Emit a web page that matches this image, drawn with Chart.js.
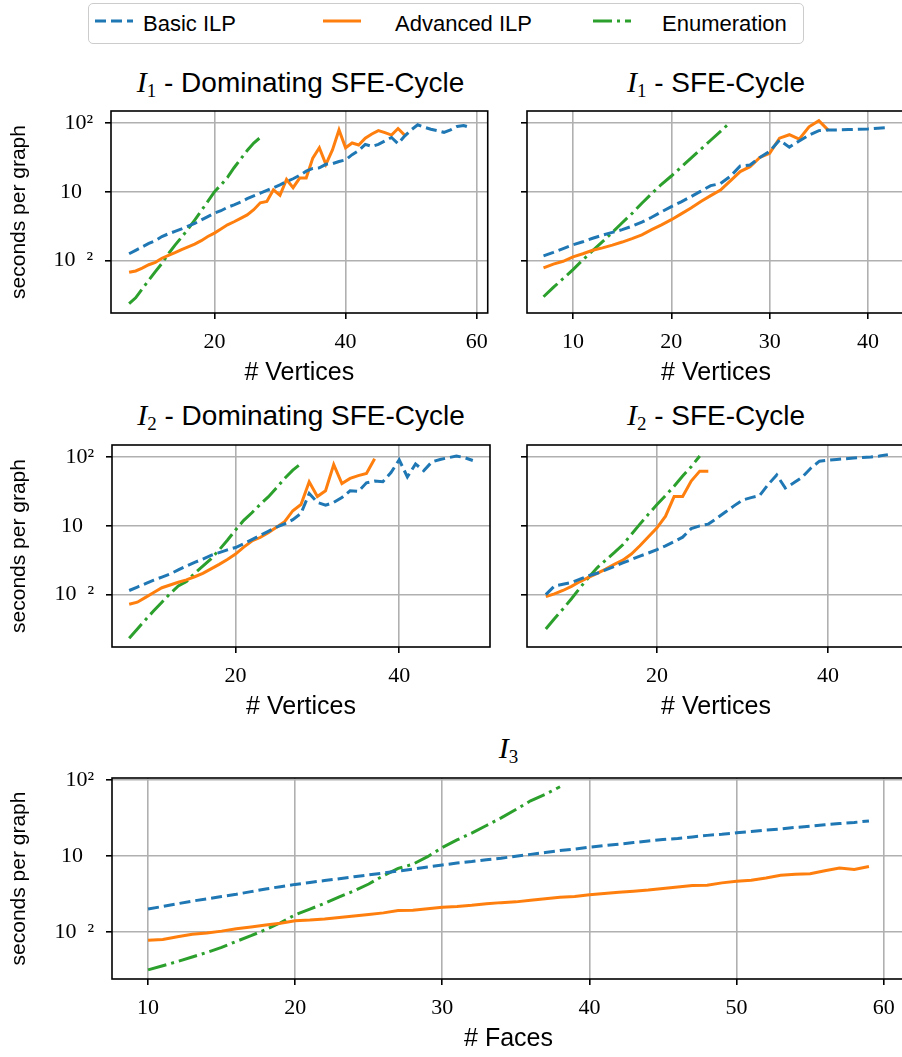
<!DOCTYPE html>
<html>
<head>
<meta charset="utf-8">
<script src="https://cdn.jsdelivr.net/npm/chart.js@4"></script>
<style>
  body { margin: 0; width: 902px; height: 1057px; overflow: hidden; background: #fff; position: relative; font-family: "Liberation Sans", sans-serif; }
  canvas { position: absolute; }
  .title { position: absolute; text-align: center; font-size: 28px; line-height: 30px; color: #000; white-space: nowrap; }
  .title i { font-family: "Liberation Serif", serif; font-size: 30px; }
  .title sub { font-family: "Liberation Serif", serif; font-size: 19px; line-height: 0; vertical-align: -5px; }
  #legend { position: absolute; left: 88px; top: 3px; width: 714px; height: 39px; border: 1.5px solid #ccc; border-radius: 5px; }
  #legend span { position: absolute; top: 7px; font-size: 22px; line-height: 26px; }
  #legend svg { position: absolute; top: 14px; }
</style>
</head>
<body>
<div id="legend"></div>
<div class="title" style="left:111px;width:379px;top:67px"><i>I</i><sub>1</sub> - Dominating SFE-Cycle</div>
<div class="title" style="left:527px;width:378px;top:67px"><i>I</i><sub>1</sub> - SFE-Cycle</div>
<div class="title" style="left:112px;width:378px;top:400px"><i>I</i><sub>2</sub> - Dominating SFE-Cycle</div>
<div class="title" style="left:527px;width:378px;top:400px"><i>I</i><sub>2</sub> - SFE-Cycle</div>
<div class="title" style="left:112px;width:793px;top:733px"><i>I</i><sub>3</sub></div>
<canvas id="c1"></canvas>
<canvas id="c2"></canvas>
<canvas id="c3"></canvas>
<canvas id="c4"></canvas>
<canvas id="c5"></canvas>
<script>
// Series names and colours
const seriesNames = ["Basic ILP", "Advanced ILP", "Enumeration"];
const seriesColors = ["#1f77b4", "#ff7f0e", "#2ca02c"];

// y tick values and the labels as they appear in the figure
const yTickValues = [0.01, 1, 100];
const yTickLabels = ["10\u2002\u00b2", "10\u2002", "10\u00b2"];

// x ticks per panel
const i1DomXTicks = [20, 40, 60];
const i1XTicks = [10, 20, 30, 40];
const i2DomXTicks = [20, 40];
const i2XTicks = [20, 40];
const i3XTicks = [10, 20, 30, 40, 50, 60];

// All values are log10(seconds per graph), first point at the start value
// I1 - Dominating SFE-Cycle, # vertices from 7
const i1DomStart = 7;
const i1DomBasic = [-1.80, -1.70, -1.60, -1.50, -1.42, -1.30, -1.22, -1.15, -1.08, -1.00,
  -0.92, -0.82, -0.72, -0.62, -0.55, -0.45, -0.38, -0.30, -0.20, -0.12,
  -0.04, 0.04, 0.12, 0.20, 0.30, 0.38, 0.48, 0.60, 0.68, 0.70,
  0.80, 0.82, 0.88, 0.93, 1.08, 1.20, 1.38, 1.32, 1.38, 1.48,
  1.58, 1.40, 1.62, 1.80, 1.95, 1.88, 1.82, 1.78, 1.73, 1.80,
  1.90, 1.93, 1.87];
const i1DomAdvanced = [-2.34, -2.30, -2.22, -2.12, -2.05, -1.93, -1.85, -1.77, -1.68, -1.60,
  -1.52, -1.42, -1.30, -1.20, -1.08, -0.96, -0.87, -0.77, -0.67, -0.52,
  -0.32, -0.28, 0.06, -0.10, 0.36, 0.12, 0.40, 0.40, 0.98, 1.28,
  0.80, 1.22, 1.80, 1.28, 1.42, 1.36, 1.56, 1.68, 1.78, 1.72,
  1.65, 1.84, 1.65];
const i1DomEnum = [-3.25, -3.08, -2.82, -2.57, -2.32, -2.08, -1.80, -1.55, -1.32, -1.08,
  -0.82, -0.55, -0.28, 0.00, 0.20, 0.42, 0.70, 0.95, 1.20, 1.42, 1.58];

// I1 - SFE-Cycle
const i1Start = 7;
const i1Basic = [-1.86, -1.76, -1.65, -1.54, -1.45, -1.35, -1.26, -1.18, -1.10, -1.00,
  -0.88, -0.74, -0.58, -0.43, -0.29, -0.14, 0.02, 0.18, 0.24, 0.45,
  0.75, 0.78, 1.00, 1.18, 1.50, 1.30, 1.48, 1.65, 1.78, 1.80,
  1.80, 1.81, 1.82, 1.83, 1.85, 1.87];
const i1Advanced = [-2.21, -2.10, -2.02, -1.89, -1.80, -1.70, -1.63, -1.55, -1.46, -1.36,
  -1.25, -1.10, -0.96, -0.81, -0.64, -0.47, -0.28, -0.11, 0.05, 0.32,
  0.59, 0.73, 1.00, 1.12, 1.56, 1.66, 1.53, 1.89, 2.07, 1.78];
const i1Enum = [-3.05, -2.78, -2.52, -2.26, -1.98, -1.71, -1.45, -1.18, -0.90, -0.63,
  -0.33, -0.05, 0.22, 0.46, 0.72, 0.98, 1.24, 1.50, 1.76, 2.02];

// I2 - Dominating SFE-Cycle
const i2DomStart = 7;
const i2DomBasic = [-1.88, -1.78, -1.68, -1.58, -1.49, -1.40, -1.28, -1.17, -1.06, -0.97,
  -0.86, -0.78, -0.70, -0.63, -0.52, -0.40, -0.28, -0.16, -0.04, 0.06,
  0.18, 0.36, 0.94, 0.68, 0.60, 0.68, 0.82, 1.02, 1.00, 1.25,
  1.30, 1.28, 1.55, 1.92, 1.42, 1.80, 1.60, 1.86, 1.93, 1.98,
  2.03, 1.98, 1.90];
const i2DomAdvanced = [-2.28, -2.22, -2.08, -1.94, -1.80, -1.72, -1.64, -1.57, -1.48, -1.38,
  -1.25, -1.12, -0.98, -0.82, -0.62, -0.44, -0.34, -0.20, -0.04, 0.12,
  0.44, 0.62, 1.28, 0.85, 1.02, 1.78, 1.23, 1.38, 1.46, 1.52, 1.95];
const i2DomEnum = [-3.27, -3.00, -2.73, -2.47, -2.22, -1.97, -1.75, -1.62, -1.38, -1.17,
  -0.96, -0.70, -0.42, -0.12, 0.16, 0.38, 0.62, 0.84, 1.10, 1.38, 1.62, 1.81];

// I2 - SFE-Cycle
const i2Start = 7;
const i2Basic = [-2.00, -1.75, -1.70, -1.65, -1.55, -1.45, -1.38, -1.28, -1.18, -1.08,
  -0.98, -0.88, -0.79, -0.69, -0.58, -0.46, -0.33, -0.08, 0.00, 0.05,
  0.22, 0.40, 0.58, 0.75, 0.82, 0.88, 1.20, 1.48, 1.10, 1.25,
  1.42, 1.68, 1.88, 1.91, 1.93, 1.95, 1.97, 1.99, 2.00, 2.03, 2.07];
const i2Advanced = [-2.06, -1.98, -1.88, -1.76, -1.62, -1.50, -1.38, -1.26, -1.12, -1.00,
  -0.82, -0.58, -0.32, -0.06, 0.28, 0.85, 0.85, 1.30, 1.59, 1.59];
const i2Enum = [-3.00, -2.70, -2.42, -2.12, -1.80, -1.50, -1.22, -1.00, -0.78, -0.55,
  -0.25, 0.05, 0.34, 0.62, 0.88, 1.15, 1.45, 1.72, 2.03];

// I3, # faces from 10
const i3Start = 10;
const i3Basic = [-1.40, -1.33, -1.26, -1.19, -1.13, -1.07, -1.01, -0.94, -0.87, -0.81,
  -0.75, -0.70, -0.65, -0.60, -0.55, -0.50, -0.45, -0.40, -0.35, -0.29,
  -0.24, -0.19, -0.15, -0.10, -0.06, -0.01, 0.04, 0.09, 0.14, 0.18,
  0.23, 0.27, 0.31, 0.35, 0.39, 0.43, 0.46, 0.50, 0.54, 0.57,
  0.61, 0.64, 0.68, 0.71, 0.75, 0.78, 0.82, 0.85, 0.88, 0.92];
const i3Advanced = [-2.22, -2.20, -2.13, -2.06, -2.03, -1.98, -1.92, -1.87, -1.82, -1.77,
  -1.71, -1.69, -1.66, -1.62, -1.58, -1.54, -1.50, -1.44, -1.43, -1.39,
  -1.35, -1.33, -1.30, -1.26, -1.23, -1.21, -1.17, -1.13, -1.09, -1.07,
  -1.02, -0.99, -0.96, -0.93, -0.90, -0.86, -0.82, -0.78, -0.77, -0.71,
  -0.67, -0.64, -0.58, -0.51, -0.48, -0.47, -0.39, -0.32, -0.36, -0.28];
const i3Enum = [-3.00, -2.89, -2.78, -2.66, -2.54, -2.41, -2.25, -2.10, -1.94, -1.76,
  -1.55, -1.40, -1.25, -1.08, -0.92, -0.74, -0.52, -0.33, -0.22, -0.02,
  0.22, 0.42, 0.60, 0.80, 1.00, 1.22, 1.45, 1.62, 1.82];

const dashes = [[11, 5], [], [19, 5, 3, 5]];

// Build the legend
const legend = document.getElementById("legend");
const legendSwatchX = [6, 234, 504];
const legendTextX = [54, 306, 573];
seriesNames.forEach((name, i) => {
  legend.insertAdjacentHTML("beforeend",
    `<svg width="38" height="6" style="left:${legendSwatchX[i]}px"><line x1="0" y1="3" x2="38" y2="3" stroke="${seriesColors[i]}" stroke-width="3" stroke-dasharray="${dashes[i].join(",")}"/></svg>` +
    `<span style="left:${legendTextX[i]}px">${name}</span>`);
});

// Box round the plot area, like matplotlib spines
const frame = {
  id: "frame",
  afterDraw(chart) {
    const a = chart.chartArea;
    const ctx = chart.ctx;
    ctx.save();
    ctx.strokeStyle = "#000";
    ctx.lineWidth = 1.6;
    ctx.strokeRect(a.left, a.top, a.right - a.left, a.bottom - a.top);
    ctx.restore();
  }
};

function points(start, logs) {
  return logs.map((v, i) => ({ x: start + i, y: Math.pow(10, v) }));
}

// padTop leaves room so the top tick label does not push the plot down
const padTop = 36, padRight = 8, xH = 78;

function makePanel(id, box, xRange, xTicks, yRange, showY, xTitle, start, lists) {
  const [left, top, right, bottom] = box;
  const yW = showY ? left : 8;
  const canvas = document.getElementById(id);
  canvas.width = yW + (right - left) + padRight;
  canvas.height = padTop + (bottom - top) + xH;
  canvas.style.left = (left - yW) + "px";
  canvas.style.top = (top - padTop) + "px";

  new Chart(canvas.getContext("2d"), {
    type: "line",
    data: {
      datasets: lists.map((vals, i) => ({
        label: seriesNames[i],
        data: points(start, vals),
        borderColor: seriesColors[i],
        borderWidth: 3,
        borderDash: dashes[i],
        pointRadius: 0,
        tension: 0,
        fill: false
      }))
    },
    options: {
      responsive: false,
      animation: false,
      layout: { padding: { top: padTop, right: padRight, left: 0, bottom: 0 } },
      plugins: { legend: { display: false }, tooltip: { enabled: false } },
      scales: {
        x: {
          type: "linear",
          min: xRange[0],
          max: xRange[1],
          afterBuildTicks: (s) => { s.ticks = xTicks.map(v => ({ value: v })); },
          afterFit: (s) => { s.height = xH; },
          grid: { color: "#b0b0b0", lineWidth: 1.6, drawTicks: true, tickLength: 6, tickColor: "#000", tickWidth: 1.6 },
          border: { display: false },
          ticks: { color: "#000", padding: 10, maxRotation: 0, font: { family: "Liberation Serif", size: 22 } },
          title: { display: true, text: xTitle, color: "#000", padding: { top: 0, bottom: 3 }, font: { family: "Liberation Sans", size: 25 } }
        },
        y: {
          type: "logarithmic",
          min: Math.pow(10, yRange[0]),
          max: Math.pow(10, yRange[1]),
          afterBuildTicks: (s) => { s.ticks = yTickValues.map(v => ({ value: v })); },
          afterFit: (s) => { s.width = yW; },
          grid: { color: "#b0b0b0", lineWidth: 1.6, drawTicks: true, tickLength: 6, tickColor: "#000", tickWidth: 1.6 },
          border: { display: false },
          ticks: {
            display: showY,
            color: "#000",
            padding: 12,
            font: { family: "Liberation Serif", size: 22 },
            callback: (v) => yTickLabels[yTickValues.indexOf(v)]
          },
          title: { display: showY, text: "seconds per graph", color: "#000", padding: { top: 7, bottom: 0 }, font: { family: "Liberation Sans", size: 21 } }
        }
      }
    },
    plugins: [frame]
  });
}

const topY = [-3.5, 2.35];
makePanel("c1", [111, 111, 490, 313], [4.24, 61.67], i1DomXTicks, topY, true, "# Vertices", i1DomStart, [i1DomBasic, i1DomAdvanced, i1DomEnum]);
makePanel("c2", [527, 111, 905, 313], [5.32, 43.76], i1XTicks, topY, false, "# Vertices", i1Start, [i1Basic, i1Advanced, i1Enum]);
makePanel("c3", [112, 445, 490, 647], [4.9, 51.1], i2DomXTicks, topY, true, "# Vertices", i2DomStart, [i2DomBasic, i2DomAdvanced, i2DomEnum]);
makePanel("c4", [527, 445, 905, 647], [4.8, 49.0], i2XTicks, topY, false, "# Vertices", i2Start, [i2Basic, i2Advanced, i2Enum]);
makePanel("c5", [112, 778, 905, 979], [7.55, 61.45], i3XTicks, [-3.24, 2.05], true, "# Faces", i3Start, [i3Basic, i3Advanced, i3Enum]);
</script>
</body>
</html>
